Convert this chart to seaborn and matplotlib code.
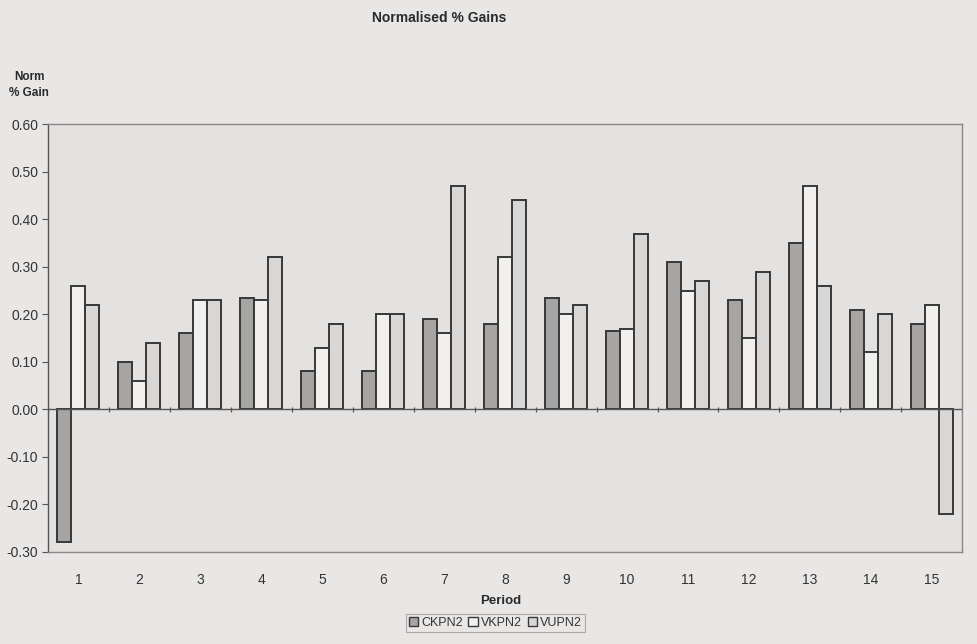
import numpy as np
import pandas as pd
import matplotlib
matplotlib.use("Agg")
import matplotlib.pyplot as plt
import seaborn as sns

# Normalised % gain per period for the three groups
periods = [str(p) for p in range(1, 16)]
ckpn2 = [-0.28, 0.10, 0.16, 0.235, 0.08, 0.08, 0.19, 0.18, 0.235, 0.165, 0.31, 0.23, 0.35, 0.21, 0.18]
vkpn2 = [0.26, 0.06, 0.23, 0.23, 0.13, 0.20, 0.16, 0.32, 0.20, 0.17, 0.25, 0.15, 0.47, 0.12, 0.22]
vupn2 = [0.22, 0.14, 0.23, 0.32, 0.18, 0.20, 0.47, 0.44, 0.22, 0.37, 0.27, 0.29, 0.26, 0.20, -0.22]
series_names = ["CKPN2", "VKPN2", "VUPN2"]
y_ticks = [-0.30, -0.20, -0.10, 0.00, 0.10, 0.20, 0.30, 0.40, 0.50, 0.60]

df = pd.DataFrame({
    "Period": periods * 3,
    "Gain": ckpn2 + vkpn2 + vupn2,
    "Series": [s for s in series_names for _ in periods],
})

sns.set_theme(style="white")
plt.rcParams["font.family"] = ["Liberation Sans", "DejaVu Sans"]

page_bg = "#e9e7e6"
plot_bg = "#e4e2e1"
ink = "#383838"
palette = {"CKPN2": "#a7a5a4", "VKPN2": "#f2f0ef", "VUPN2": "#d9d7d6"}

fig = plt.figure(figsize=(9.77, 6.44), dpi=100, facecolor=page_bg)
ax = fig.add_axes([0.049, 0.143, 0.936, 0.664])
ax.set_facecolor(plot_bg)

sns.barplot(data=df, x="Period", y="Gain", hue="Series", hue_order=series_names,
            palette=palette, width=0.69, saturation=1, edgecolor=ink,
            linewidth=1.4, ax=ax, legend=False)

ax.set_ylim(-0.30, 0.60)
ax.set_xlim(-0.5, len(periods) - 0.5)
ax.set_yticks(y_ticks)
ax.set_yticklabels([f"{v:.2f}" for v in y_ticks], fontsize=10, color="#333333")
ax.tick_params(axis="y", length=4, width=0.8, color="#555555", pad=3, left=True)
ax.tick_params(axis="x", length=0, pad=15, labelsize=10, labelcolor="#333333")
ax.set_xlabel("")
ax.set_ylabel("")

# Frame: solid value axis, dotted border round the plot area
for side in ("top", "right", "bottom"):
    ax.spines[side].set_color("#8a8888")
    ax.spines[side].set_linestyle((0, (1, 1)))
    ax.spines[side].set_linewidth(1.0)
ax.spines["left"].set_color("#555555")
ax.spines["left"].set_linewidth(1.0)

# Category axis drawn through zero, with tick marks between periods
ax.axhline(0, color="#555555", linewidth=1.0, zorder=3)
ax.vlines(np.arange(-0.5, len(periods)), -0.006, 0.006, color="#555555",
          linewidth=0.9, zorder=3)

fig.text(0.45, 0.972, "Normalised % Gains", ha="center", va="center",
         fontsize=10, fontweight="bold", color="#2a2a2a")
fig.text(0.030, 0.868, "Norm\n% Gain", ha="center", va="center",
         fontsize=8.5, fontweight="bold", color="#2a2a2a", linespacing=1.5)
fig.text(0.512, 0.067, "Period", ha="center", va="center",
         fontsize=9.5, fontweight="bold", color="#2a2a2a")

handles = [plt.Rectangle((0, 0), 1, 1, facecolor=palette[s], edgecolor=ink,
                         linewidth=1.0) for s in series_names]
leg = fig.legend(handles, series_names, loc="center", bbox_to_anchor=(0.507, 0.033),
                 ncol=3, frameon=True, fontsize=9, handlelength=0.75,
                 handleheight=0.75, handletextpad=0.25, columnspacing=0.45,
                 borderpad=0.25, fancybox=False)
leg.get_frame().set_edgecolor("#9a9898")
leg.get_frame().set_linewidth(0.8)
leg.get_frame().set_facecolor(page_bg)
for t in leg.get_texts():
    t.set_color("#333333")

fig.savefig("out.png", dpi=100, facecolor=page_bg)
